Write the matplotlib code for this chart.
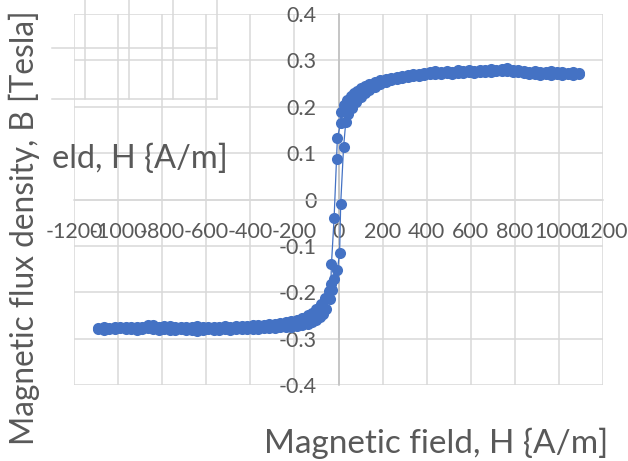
import numpy as np
import matplotlib
matplotlib.use("Agg")
import matplotlib.pyplot as plt
from matplotlib.ticker import FixedLocator, FuncFormatter
from matplotlib.lines import Line2D

plt.rcParams['font.family'] = ['Lato', 'DejaVu Sans']
plt.rcParams['axes.unicode_minus'] = False

# descending branch (from +H saturation down to -H)
H_down = [1090, 1065, 1040, 1015, 990, 965, 940, 915, 890, 865, 840, 815, 790,
          765, 740, 715, 690, 665, 640, 615, 590, 565, 540, 515, 490, 465, 440,
          415, 390, 365, 340, 315, 290, 265, 240, 215, 190,
          165, 140, 120, 100, 85, 70, 55, 40, 25, 12, 10, -5, -9, -20, -32, -35,
          -45, -60, -80, -100, -120, -140, -165,
          -190, -215, -240, -265, -290, -315, -340, -365, -390, -415, -440, -465,
          -490, -515, -540, -565, -590, -615, -640, -665, -690, -715, -740, -765,
          -790, -815, -840, -865, -890, -915, -940, -965, -990, -1015, -1040,
          -1065, -1090]
B_down = [0.272, 0.275, 0.273, 0.276, 0.274, 0.277, 0.274, 0.276, 0.278, 0.276,
          0.277, 0.279, 0.280, 0.283, 0.282, 0.280, 0.281, 0.279, 0.280, 0.278,
          0.280, 0.277, 0.279, 0.276, 0.278, 0.275, 0.277, 0.274, 0.273, 0.271,
          0.270, 0.268, 0.267, 0.265, 0.263, 0.260, 0.257,
          0.253, 0.249, 0.245, 0.240, 0.235, 0.230, 0.223, 0.215, 0.203, 0.188,
          0.165, 0.133, 0.088, -0.040, -0.140, -0.183, -0.198, -0.212, -0.226,
          -0.236, -0.244, -0.250, -0.256,
          -0.260, -0.263, -0.265, -0.267, -0.268, -0.269, -0.270, -0.271, -0.271,
          -0.272, -0.273, -0.272, -0.274, -0.273, -0.275, -0.274, -0.276, -0.275,
          -0.273, -0.275, -0.274, -0.276, -0.275, -0.273, -0.272, -0.274, -0.271,
          -0.270, -0.274, -0.275, -0.276, -0.275, -0.276, -0.275, -0.277, -0.276,
          -0.277]

# ascending branch (from -H saturation up to +H)
H_up = [-1090, -1065, -1040, -1015, -990, -965, -940, -915, -890, -865, -840,
        -815, -790, -765, -740, -715, -690, -665, -640, -615, -590, -565, -540,
        -515, -490, -465, -440, -415, -390, -365, -340, -315, -290, -265, -240,
        -215, -190,
        -165, -140, -120, -100, -85, -70, -55, -40, -28, -20, -5, 5, 10, 23, 33,
        45, 60, 80, 100, 120, 140, 165,
        190, 215, 240, 265, 290, 315, 340, 365, 390, 415, 440, 465, 490, 515,
        540, 565, 590, 615, 640, 665, 690, 715, 740, 765, 790, 815, 840, 865,
        890, 915, 940, 965, 990, 1015, 1040, 1065, 1090]
B_up = [-0.279, -0.281, -0.279, -0.280, -0.278, -0.280, -0.279, -0.281, -0.280,
        -0.277, -0.279, -0.281, -0.280, -0.282, -0.281, -0.280, -0.282, -0.281,
        -0.283, -0.281, -0.280, -0.282, -0.281, -0.280, -0.281, -0.279, -0.280,
        -0.279, -0.280, -0.279, -0.278, -0.278, -0.277, -0.276, -0.275, -0.274,
        -0.272,
        -0.270, -0.268, -0.265, -0.260, -0.254, -0.246, -0.236, -0.215, -0.195,
        -0.172, -0.152, -0.115, -0.009, 0.113, 0.167, 0.185, 0.197, 0.210, 0.222,
        0.230, 0.237, 0.243,
        0.249, 0.253, 0.257, 0.260, 0.262, 0.264, 0.266, 0.267, 0.268, 0.270,
        0.271, 0.270, 0.272, 0.271, 0.273, 0.272, 0.274, 0.273, 0.275, 0.274,
        0.276, 0.277, 0.278, 0.277, 0.276, 0.274, 0.272, 0.271, 0.270, 0.269,
        0.270, 0.268, 0.271, 0.269, 0.270, 0.268, 0.270]

x_ticks = [-1200, -1000, -800, -600, -400, -200, 0, 200, 400, 600, 800, 1000, 1200]
y_ticks = [-0.4, -0.3, -0.2, -0.1, 0, 0.1, 0.2, 0.3, 0.4]

H = H_up + H_down
B = B_up + B_down

W, Hpx = 628, 461
fig = plt.figure(figsize=(W / 100, Hpx / 100), dpi=100)
ax = fig.add_axes([74 / W, 1 - 385 / Hpx, 529 / W, 371 / Hpx])

grey = '#595959'
gridc = '#D9D9D9'

ax.plot(H, B, '-o', color='#4472C4', lw=0.9, ms=8, mew=0, zorder=3)

ax.set_xlim(-1200, 1200)
ax.set_ylim(-0.4, 0.4)
ax.xaxis.set_major_locator(FixedLocator(x_ticks))
ax.yaxis.set_major_locator(FixedLocator(y_ticks))
fmt = FuncFormatter(lambda v, p: '%g' % round(v, 3))
ax.xaxis.set_major_formatter(fmt)
ax.yaxis.set_major_formatter(fmt)

ax.grid(True, color=gridc, lw=1.1)
ax.set_axisbelow(True)
for ln in ax.get_xgridlines() + ax.get_ygridlines():
    ln.set_clip_on(False)

for s in ['top', 'right']:
    ax.spines[s].set_visible(False)
ax.spines['left'].set_position(('data', 0))
ax.spines['bottom'].set_position(('data', 0))
ax.spines['left'].set_color('#BFBFBF')
ax.spines['bottom'].set_color(gridc)
ax.spines['left'].set_linewidth(1.1)
ax.spines['bottom'].set_linewidth(1.1)

ax.tick_params(axis='x', length=0, pad=16, labelsize=15.5, labelcolor=grey)
ax.tick_params(axis='y', length=0, pad=16, labelsize=15.5, labelcolor=grey)

# stray grid fragment in the top-left corner
for xp in [85, 129, 173, 217]:
    fig.add_artist(Line2D([xp / W, xp / W], [1, 1 - 99 / Hpx], color=gridc, lw=1.1))
for yp in [48, 99]:
    fig.add_artist(Line2D([52 / W, 217 / W], [1 - yp / Hpx, 1 - yp / Hpx], color=gridc, lw=1.1))

fig.text(52 / W, 1 - 168 / Hpx, 'eld, H {A/m]', fontsize=23.5, color=grey,
         ha='left', va='baseline')
fig.text(608 / W, 1 - 453 / Hpx, 'Magnetic field, H {A/m]', fontsize=24,
         color=grey, ha='right', va='baseline')
fig.text(24 / W, 1 - 228 / Hpx, 'Magnetic flux density, B [Tesla]', fontsize=22.8,
         color=grey, ha='center', va='center', rotation=90)

fig.savefig('out.png', dpi=100)
